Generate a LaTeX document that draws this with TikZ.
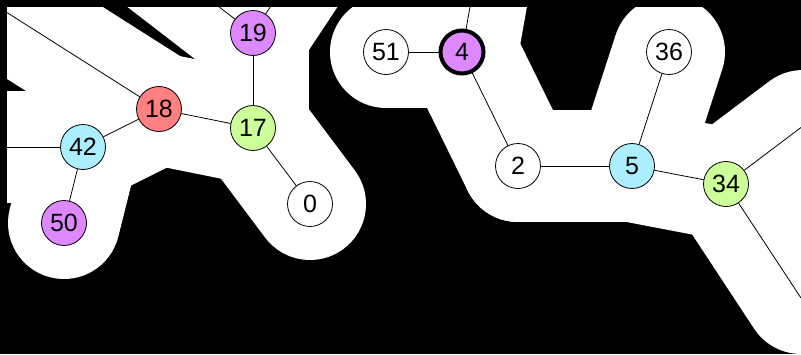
\documentclass[tikz,border=0pt]{standalone}
\usepackage{fontspec}
\setmainfont{Liberation Sans}
\usetikzlibrary{positioning}
\definecolor{vxpurple}{RGB}{221,136,255}
\definecolor{vxred}{RGB}{255,128,128}
\definecolor{vxgreen}{RGB}{204,255,153}
\definecolor{vxcyan}{RGB}{170,238,255}

\begin{document}
\begin{tikzpicture}[x=1pt, y=-1pt,
    vert/.style={circle, draw, line width=0.8pt, minimum size=45pt, inner sep=0pt,
      font=\fontsize{25}{30}\selectfont},
    hull/.style={white, line width=112pt, line cap=round},
    link/.style={line width=0.8pt}]
  \fill[black] (0,0) rectangle (801,354);
  \useasboundingbox (0,0) rectangle (801,354);
  % vertex positions
  \foreach \v/\x/\y in {19/253/33, 18/159/109, 17/253/128, 42/83/147, 50/64/223,
      0/310/204, 51/386/52, 4/462/52, 2/518/166, 5/632/166, 36/669/52, 34/726/184}
    \coordinate (c\v) at (\x,\y);
  % edges leaving the picture
  \coordinate (o1) at (118,-71);
  \coordinate (o2) at (322,-71);
  \coordinate (o3) at (-68,-35);
  \coordinate (o4) at (-60,147);
  \coordinate (o5) at (478,-38);
  \coordinate (o6) at (803,126);
  \coordinate (o7) at (801,298);
  % white band round the edges
  \begin{scope}
    \clip (7,7) rectangle (801,354);
    \foreach \a/\b in {c19/o1, c19/o2, c18/o3, c42/o4, c4/o5, c34/o6, c34/o7,
        c19/c17, c18/c17, c18/c42, c42/c50, c17/c0,
        c51/c4, c4/c2, c2/c5, c5/c36, c5/c34}
      \draw[hull] (\a) -- (\b);
  \end{scope}
  % vertices
  \node[vert, fill=vxpurple] (n19) at (c19) {19};
  \node[vert, fill=vxred] (n18) at (c18) {18};
  \node[vert, fill=vxgreen] (n17) at (c17) {17};
  \node[vert, fill=vxcyan] (n42) at (c42) {42};
  \node[vert, fill=vxpurple] (n50) at (c50) {50};
  \node[vert, fill=white] (n0) at (c0) {0};
  \node[vert, fill=white] (n51) at (c51) {51};
  \node[vert, fill=vxpurple, line width=4pt, minimum size=43pt] (n4) at (c4) {4};
  \node[vert, fill=white] (n2) at (c2) {2};
  \node[vert, fill=vxcyan] (n5) at (c5) {5};
  \node[vert, fill=white] (n36) at (c36) {36};
  \node[vert, fill=vxgreen] (n34) at (c34) {34};
  % connectors
  \foreach \a/\b in {n19/o1, n19/o2, n18/o3, n42/o4, n4/o5, n34/o6, n34/o7,
      n19/n17, n18/n17, n18/n42, n42/n50, n17/n0,
      n51/n4, n4/n2, n2/n5, n5/n36, n5/n34}
    \draw[link] (\a) -- (\b);
\end{tikzpicture}
\end{document}
